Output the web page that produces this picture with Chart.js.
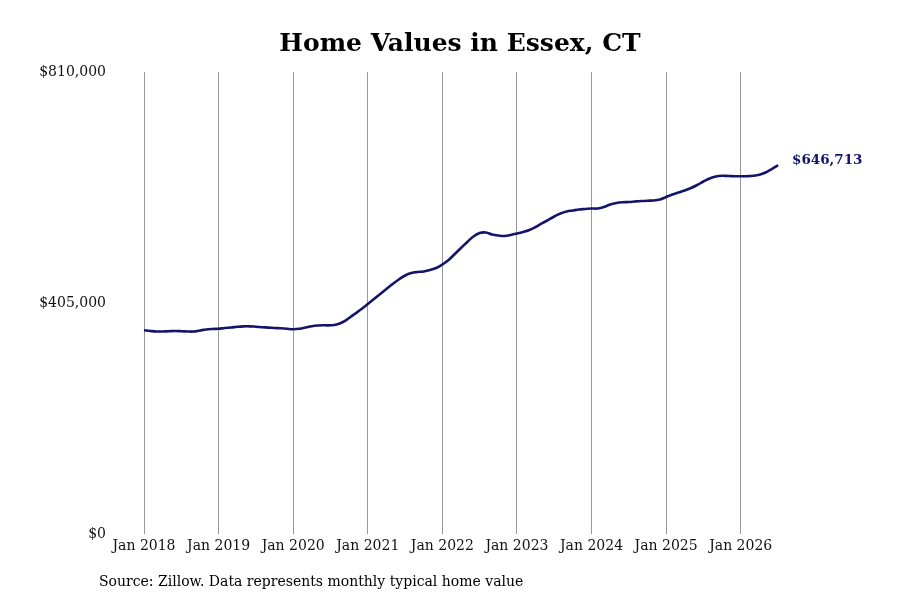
<!DOCTYPE html>
<html lang="en">
  <head>
    <meta charset="UTF-8" />
    <title>Home Values in Essex, CT</title>
    <script src="https://cdn.jsdelivr.net/npm/chart.js"></script>
    <style>
      html, body { margin: 0; padding: 0; background: #fff; }
      #wrap { width: 900px; height: 600px; }
    </style>
  </head>
  <body>
    <div id="wrap"><canvas id="homeChart" width="900" height="600"></canvas></div>
    <script>
      // chart data (monthly, Jan 2018 - Jul 2026)
      const startYear = 2018;
      const monthNames = ["Jan", "Feb", "Mar", "Apr", "May", "Jun", "Jul", "Aug", "Sep", "Oct", "Nov", "Dec"];
      const homeValues = [
        357100, 355900, 355000, 355000, 355600, 355900, 355600, 355000, 355000, 356800, 358500, 359400,
        359900, 361200, 362000, 363300, 364100, 364100, 363400, 362600, 361900, 361200, 360600, 359800,
        359100, 359800, 362000, 364300, 365500, 365900, 365900, 367300, 371700, 378700, 386600, 394500,
        403200, 412000, 420800, 429500, 438300, 446200, 453200, 457600, 459400, 460200, 462900, 466400,
        472500, 480400, 490900, 501400, 512000, 521600, 527700, 528600, 525100, 523300, 522500, 524200,
        526900, 529500, 533000, 538200, 544400, 550500, 556700, 561900, 565400, 567200, 568900, 569800,
        570700, 570700, 573300, 577700, 580300, 581600, 582100, 583000, 583800, 584400, 584700, 586500,
        590800, 595200, 598700, 602200, 606600, 611900, 618000, 623300, 626800, 628000, 627600, 627300,
        627100, 627300, 628000, 629800, 633800, 639900, 646713
      ];
      const yTicks = [0, 405000, 810000];
      const lastLabel = "$646,713";
      const titleText = "Home Values in Essex, CT";
      const sourceText = "Source: Zillow. Data represents monthly typical home value";

      const monthLabels = homeValues.map((v, i) =>
        monthNames[i % 12] + " " + (startYear + Math.floor(i / 12))
      );

      const serif = "'DejaVu Serif', serif";
      const lineColor = "#14146b";

      // price tag at the end of the line
      const endLabelPlugin = {
        id: "endLabel",
        afterDatasetsDraw(chart) {
          const meta = chart.getDatasetMeta(0);
          const pt = meta.data[meta.data.length - 1];
          const ctx = chart.ctx;
          ctx.save();
          ctx.font = "bold 13.5px " + serif;
          ctx.fillStyle = lineColor;
          ctx.textBaseline = "middle";
          ctx.fillText(lastLabel, pt.x + 14, pt.y - 5);
          ctx.restore();
        },
      };

      // title across the whole picture and the source note under the axis
      const textPlugin = {
        id: "pageText",
        afterDraw(chart) {
          const ctx = chart.ctx;
          ctx.save();
          ctx.fillStyle = "#000";
          ctx.textBaseline = "middle";
          ctx.textAlign = "center";
          ctx.font = "bold 25px " + serif;
          ctx.fillText(titleText, 460, 44);
          ctx.textAlign = "left";
          ctx.font = "14px " + serif;
          ctx.fillText(sourceText, 99, 582);
          ctx.restore();
        },
      };

      const ctx = document.getElementById("homeChart").getContext("2d");
      new Chart(ctx, {
        type: "line",
        data: {
          labels: monthLabels,
          datasets: [
            {
              label: "Typical home value",
              data: homeValues,
              borderColor: lineColor,
              borderWidth: 2.6,
              pointRadius: 0,
              tension: 0.4,
              fill: false,
            },
          ],
        },
        options: {
          responsive: false,
          animation: false,
          layout: { padding: { top: 72, left: 0, right: 122, bottom: 0 } },
          plugins: {
            legend: { display: false },
            tooltip: { enabled: false },
            title: { display: false },
          },
          scales: {
            x: {
              type: "category",
              offset: false,
              grid: { color: "#999", lineWidth: 1, drawTicks: false },
              border: { display: false },
              ticks: {
                autoSkip: false,
                maxRotation: 0,
                padding: 4,
                color: "#111",
                font: { family: serif, size: 14 },
                callback: function (value, index) {
                  const lbl = monthLabels[index];
                  return lbl.startsWith("Jan") ? lbl : null;
                },
              },
              afterFit(scale) { scale.height = 66; },
            },
            y: {
              min: 0,
              max: 810000,
              afterBuildTicks(scale) {
                scale.ticks = yTicks.map((v) => ({ value: v }));
              },
              grid: { display: false, drawTicks: false },
              border: { display: false },
              ticks: {
                padding: 38,
                color: "#111",
                font: { family: serif, size: 14 },
                callback: (v) => "$" + v.toLocaleString("en-US"),
              },
              afterFit(scale) { scale.width = 144; },
            },
          },
        },
        plugins: [endLabelPlugin, textPlugin],
      });
    </script>
  </body>
</html>
